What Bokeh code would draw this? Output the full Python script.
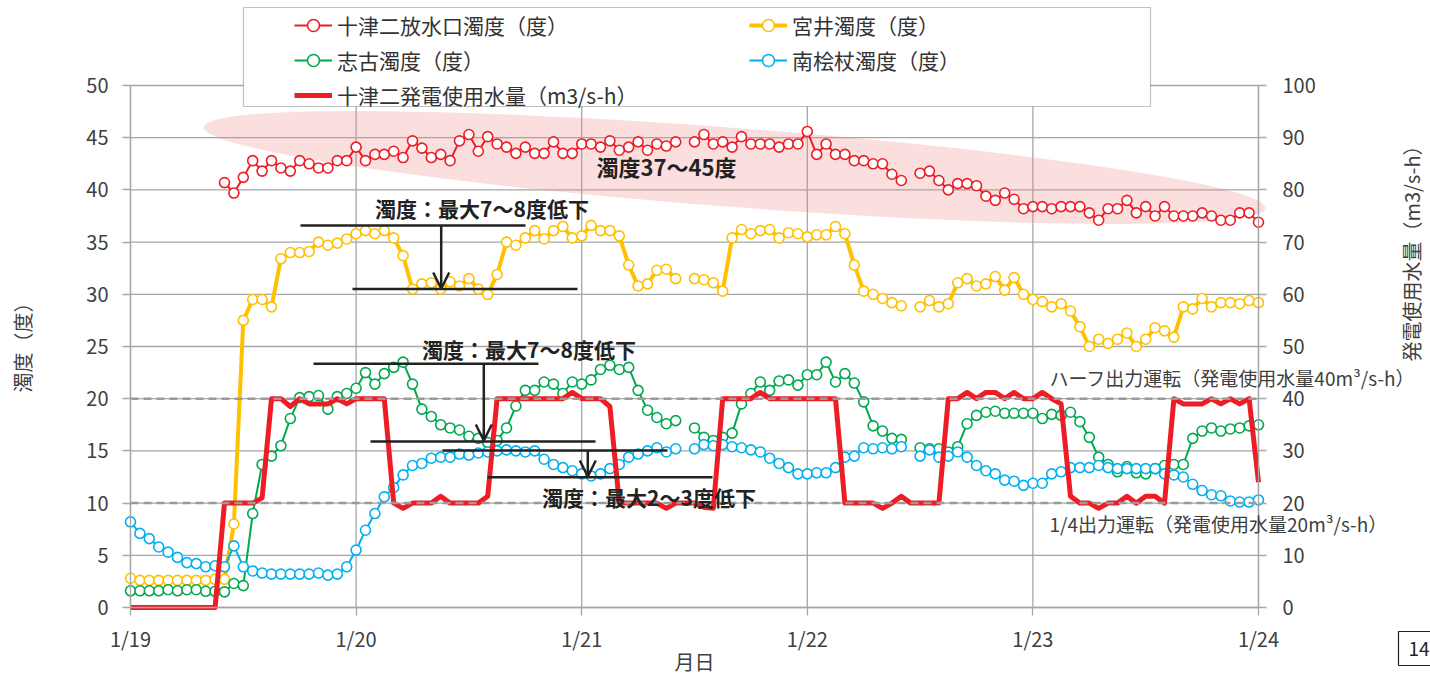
import math
from bokeh.plotting import figure
from bokeh.models import (Range1d, LinearAxis, FixedTicker, Legend, LegendItem,
                          Label, Arrow, OpenHead, BoxAnnotation)
from bokeh.embed import file_html
from bokeh.resources import INLINE

nan = float("nan")

# ---------------- data (hourly, 1/19 0:00 .. 1/24 0:00) ----------------
hours = list(range(121))
day_ticks = [0, 24, 48, 72, 96, 120]
day_labels = ["1/19", "1/20", "1/21", "1/22", "1/23", "1/24"]
left_ticks = list(range(0, 51, 5))
right_ticks = list(range(0, 101, 10))

totsu_outlet = [nan] * 10 + [
    40.7, 39.7, 41.2, 42.8, 41.8, 42.8, 42.1, 41.8, 42.8, 42.5, 42.1, 42.1, 42.8, 42.8,
    44.1, 42.8, 43.4, 43.4, 43.7, 43.1, 44.7, 44.0, 43.1, 43.4, 42.8, 44.7, 45.3, 43.7,
    45.1, 44.4, 44.1, 43.5, 44.1, 43.5, 43.5, 44.6, 43.5, 43.5,
    44.4, 44.4, 44.1, 44.7, 43.8, 44.1, 44.6, 43.8, 44.4, 44.2, 44.6, nan, 44.6, 45.3,
    44.4, 44.6, 44.1, 45.1, 44.4, 44.4, 44.4, 44.1, 44.4, 44.4,
    45.6, 43.4, 44.4, 43.4, 43.4, 42.8, 42.8, 42.5, 42.5, 41.5, 40.9, nan, 41.6, 41.8,
    40.9, 40.0, 40.6, 40.6, 40.4, 39.4, 39.0, 39.7, 39.1, 38.2,
    38.4, 38.4, 38.2, 38.4, 38.4, 38.4, 37.8, 37.1, 38.2, 38.2, 39.0, 37.8, 38.4, 37.5,
    38.4, 37.5, 37.5, 37.5, 37.8, 37.5, 37.1, 37.1, 37.8, 37.8, 36.9]

miyai = [
    2.8, 2.6, 2.6, 2.6, 2.6, 2.6, 2.6, 2.6, 2.6, 2.7, 2.7, 8.0, 27.5, 29.5, 29.5, 28.8,
    33.4, 34.0, 34.0, 34.1, 35.0, 34.7, 34.9, 35.3,
    35.8, 36.1, 35.8, 36.1, 35.4, 33.7, 30.5, 31.0, 31.1, 30.5, 31.2, 30.8, 31.5, 30.5,
    30.0, 31.9, 35.0, 34.7, 35.4, 36.1, 35.3, 36.1, 36.5, 35.4,
    35.6, 36.6, 36.1, 36.1, 35.6, 32.8, 30.8, 31.0, 32.3, 32.4, 31.5, nan, 31.5, 31.4,
    31.1, 30.3, 35.4, 36.2, 35.8, 36.1, 36.2, 35.4, 35.9, 35.8,
    35.5, 35.7, 35.7, 36.5, 35.8, 32.8, 30.3, 30.0, 29.6, 29.2, 28.9, nan, 28.8, 29.4,
    28.8, 29.1, 31.1, 31.5, 30.8, 31.0, 31.7, 30.4, 31.6, 30.0,
    29.5, 29.3, 28.8, 29.1, 28.4, 26.9, 25.0, 25.7, 25.3, 25.7, 26.3, 25.0, 25.7, 26.8,
    26.5, 25.9, 28.8, 28.6, 29.6, 28.8, 29.2, 29.2, 29.1, 29.4, 29.2]

shiko = [
    1.6, 1.6, 1.6, 1.6, 1.7, 1.6, 1.7, 1.7, 1.55, 1.55, 1.5, 2.3, 2.1, 9.0, 13.7, 14.5,
    15.5, 18.1, 20.1, 20.2, 20.3, 19.0, 20.2, 20.5,
    21.0, 22.5, 21.4, 22.4, 23.0, 23.5, 21.4, 19.0, 18.3, 17.5, 17.2, 17.0, 16.4, 16.2,
    15.8, 16.0, 17.2, 19.3, 20.8, 20.8, 21.6, 21.4, 20.5, 21.6,
    21.4, 21.8, 22.8, 23.2, 22.8, 23.0, 20.8, 18.9, 18.2, 17.6, 17.9, nan, 17.2, 16.3,
    16.0, 16.3, 16.7, 19.5, 20.5, 21.6, 20.8, 21.7, 21.8, 21.3,
    22.3, 22.3, 23.5, 21.6, 22.4, 21.5, 19.7, 17.4, 16.9, 16.2, 16.1, nan, 15.3, 15.2,
    15.2, 14.9, 15.4, 17.6, 18.4, 18.7, 18.8, 18.6, 18.6, 18.6,
    18.6, 18.1, 18.5, 18.4, 18.7, 17.8, 16.3, 14.4, 13.7, 13.0, 13.5, 12.9, 12.8, 13.3,
    13.6, 13.7, 13.7, 16.2, 16.9, 17.2, 16.9, 17.1, 17.2, 17.4, 17.5]

minamikaizue = [
    8.2, 7.1, 6.6, 5.8, 5.3, 4.8, 4.3, 4.2, 3.9, 4.0, 3.9, 5.9, 3.9, 3.5, 3.3, 3.2,
    3.2, 3.2, 3.2, 3.2, 3.3, 3.1, 3.2, 3.9,
    5.5, 7.4, 9.0, 10.6, 11.5, 12.7, 13.6, 13.8, 14.3, 14.4, 14.4, 14.7, 14.6, 14.8,
    14.9, 15.0, 15.1, 15.0, 14.9, 15.0, 14.2, 13.7, 13.4, 13.1,
    12.8, 12.6, 12.8, 13.3, 13.7, 14.4, 14.7, 15.0, 15.3, 14.9, 15.2, nan, 15.2, 15.6,
    15.5, 15.6, 15.4, 15.3, 15.1, 14.9, 14.3, 13.8, 13.4, 12.8,
    12.8, 12.9, 12.9, 13.4, 14.4, 14.5, 15.3, 15.2, 15.3, 15.2, 15.4, nan, 14.5, 15.1,
    14.4, 14.5, 14.9, 14.4, 13.6, 13.1, 12.8, 12.2, 12.1, 11.7,
    11.9, 11.9, 12.8, 13.0, 13.4, 13.4, 13.4, 13.6, 13.4, 13.3, 13.3, 13.3, 13.3, 13.3,
    12.8, 12.7, 12.5, 11.8, 11.2, 10.8, 10.7, 10.2, 10.1, 10.1, 10.3]

flow = [
    0, 0, 0, 0, 0, 0, 0, 0, 0, 0, 20, 20, 20, 20, 21, 40, 40, 38.5, 40, 39, 39, 39, 40, 39,
    40, 40, 40, 40, 20, 19, 20, 20, 20, 21.3, 20, 20, 20, 20, 21.3, 40, 40, 40, 40, 40, 40,
    40, 40, 41.2,
    40, 40, 40, 38.5, 20, 20, 20, 20, 20, 19, 20, 20, 20, 19.2, 19, 40, 40, 40, 40, 41.2,
    40, 40, 40, 40,
    40, 40, 40, 40, 20, 20, 20, 20, 19, 20, 21.3, 20, 20, 20, 20, 40, 40, 41.2, 40, 41.2,
    41.2, 40, 41.2, 40,
    40, 41.2, 40, 39, 21.3, 20, 20, 19, 20, 20, 21.3, 20, 21.3, 21.3, 20, 40, 39, 39, 39,
    40, 39, 40, 39, 40, 24]

# ---------------- layout / styling ----------------
W, H = 1430, 678
PX_L, PX_R, PX_T, PX_B = 130, 1258, 85, 607          # plot-area corners on the page
hx = 120 / (PX_R - PX_L)                              # hours per pixel
vy = 50 / (PX_B - PX_T)                               # turbidity units per pixel
X0, X1 = -PX_L * hx, 120 + (W - PX_R) * hx
Y0, Y1 = -(H - PX_B) * vy, 50 + PX_T * vy

def px(x):  # page x -> hour
    return (x - PX_L) * hx

def py(y):  # page y -> left-axis value
    return (PX_B - y) * vy

RED = "#ee1c25"
YEL = "#ffc000"
GRN = "#00a84f"
BLU = "#00b0f0"
GRID = "#a6a6a6"
TXT = "#404040"
ANN = "#222222"
FONT = "Noto Sans CJK JP"

p = figure(width=W, height=H, output_backend="svg", toolbar_location=None, title=None,
           x_range=Range1d(X0, X1), y_range=Range1d(Y0, Y1),
           min_border=0, min_border_left=0, min_border_right=0,
           min_border_top=0, min_border_bottom=0)
p.outline_line_color = None
p.background_fill_color = "white"
p.border_fill_color = "white"
p.extra_y_ranges = {"flow": Range1d(2 * Y0, 2 * Y1)}
p.xgrid.visible = False
p.ygrid.visible = False

# axes (fixed to the plot-area edges)
p.xaxis.ticker = FixedTicker(ticks=day_ticks)
p.xaxis.major_label_overrides = {t: l for t, l in zip(day_ticks, day_labels)}
p.xaxis.fixed_location = 0
p.xaxis.bounds = (0, 120)
p.yaxis.ticker = FixedTicker(ticks=left_ticks)
p.yaxis.fixed_location = 0
p.yaxis.bounds = (0, 50)
ax2 = LinearAxis(y_range_name="flow", ticker=FixedTicker(ticks=right_ticks),
                 fixed_location=120, bounds=(0, 100))
p.add_layout(ax2, "right")
for ax in [p.xaxis[0], p.yaxis[0], ax2]:
    ax.axis_line_color = GRID
    ax.axis_line_width = 1.3
    ax.major_tick_line_color = GRID
    ax.major_tick_line_width = 1.3
    ax.major_tick_out = 8
    ax.major_tick_in = 0
    ax.minor_tick_line_color = None
    ax.major_label_text_font = FONT
    ax.major_label_text_font_size = "20px"
    ax.major_label_text_color = TXT
p.xaxis.major_label_standoff = 8
p.yaxis.major_label_standoff = 14
ax2.major_label_standoff = 16

# grid lines, drawn over the plot area only
p.segment(x0=[0] * len(left_ticks), x1=[120] * len(left_ticks), y0=left_ticks,
          y1=left_ticks, line_color=GRID, line_width=1.3)
p.segment(x0=day_ticks, x1=day_ticks, y0=[0] * len(day_ticks), y1=[50] * len(day_ticks),
          line_color=GRID, line_width=1.3)

# pink ellipse (37~45 band)
p.ellipse(x=[px(734)], y=[py(167)], width=[1065], height=[79], width_units="screen",
          height_units="screen", angle=-0.076, fill_color="#f08080", fill_alpha=0.25,
          line_color=None)

# series
def marker_series(y, color, lw):
    ln = p.line(hours, y, line_color=color, line_width=lw, line_join="round")
    sc = p.scatter(hours, y, marker="circle", size=10, fill_color="white",
                   line_color=color, line_width=1.6)
    return ln, sc

r1 = marker_series(totsu_outlet, RED, 2)
r2 = marker_series(miyai, YEL, 4)
r3 = marker_series(shiko, GRN, 2)
r4 = marker_series(minamikaizue, BLU, 2)
rf = p.line(hours, flow, y_range_name="flow", line_color=RED, line_width=5, line_join="round")

# dashed operation lines (half output / quarter output)
op_levels = [20, 10]
p.segment(x0=[0, 0], x1=[120, 120], y0=op_levels, y1=op_levels, line_color="#9a9a9a",
          line_width=2.5, line_dash="8 5")

# annotation lines + arrows
seg_x0 = [px(300), px(352), px(313), px(370), px(442), px(487)]
seg_x1 = [px(525), px(577), px(538), px(595), px(667), px(712)]
seg_y = [py(225), py(288.5), py(363.3), py(441), py(450), py(476.7)]
p.segment(x0=seg_x0, y0=seg_y, x1=seg_x1, y1=seg_y, line_color=ANN, line_width=2.5)
for ax_, y0, y1 in [(440.7, 225, 288), (483.3, 363.3, 440), (587.3, 450, 476)]:
    p.add_layout(Arrow(end=OpenHead(size=16, line_width=2.5, line_color=ANN),
                       x_start=px(ax_), y_start=py(y0), x_end=px(ax_), y_end=py(y1),
                       line_color=ANN, line_width=2.5))

def lab(x, y, text, size, bold=False, align="center", color=ANN, angle=0.0):
    p.add_layout(Label(x=px(x), y=py(y), text=text, text_font=FONT, text_font_size=size,
                       text_font_style="bold" if bold else "normal", text_color=color,
                       text_align=align, text_baseline="middle", angle=angle))

lab(481.5, 207, "濁度：最大7～8度低下", "21px", bold=True)
lab(528.5, 348, "濁度：最大7～8度低下", "21px", bold=True)
lab(648.5, 496.7, "濁度：最大2～3度低下", "21px", bold=True)
lab(666, 165, "濁度37～45度", "22px", bold=True)
lab(1049, 377, "ハーフ出力運転（発電使用水量40m³/s-h）", "19px", align="left", color=TXT)
lab(1049, 523, "1/4出力運転（発電使用水量20m³/s-h）", "19px", align="left", color=TXT)

# axis titles
lab(22, 342, "濁度（度）", "20px", color=TXT, angle=math.pi / 2)
lab(1411, 248, "発電使用水量（m3/s-h）", "20px", color=TXT, angle=math.pi / 2)
lab(694, 661, "月日", "20px", color=TXT)

# page number box (its frame runs off the page edge, as in the source)
p.add_layout(Label(x=px(1398), y=py(648), text="14", text_font=FONT, text_font_size="19px",
                   text_color="#222222", text_align="left", text_baseline="middle",
                   border_line_color="#222222", border_line_width=1.2,
                   background_fill_color="white", padding=10))

# legend frame
p.add_layout(BoxAnnotation(left=px(243), right=px(1150), top=py(7), bottom=py(106),
                           fill_color="white", fill_alpha=1.0,
                           line_color="#333333", line_width=1.2))

def mk_legend(items, loc):
    lg = Legend(items=items, location=loc, orientation="vertical",
                glyph_width=38, glyph_height=30, label_height=30, label_standoff=5,
                spacing=5, padding=0, margin=0, border_line_alpha=0,
                background_fill_alpha=0, label_text_font=FONT,
                label_text_font_size="21px", label_text_color="#333333")
    p.add_layout(lg)

mk_legend([LegendItem(label="十津二放水口濁度（度）", renderers=list(r1)),
           LegendItem(label="志古濁度（度）", renderers=list(r3)),
           LegendItem(label="十津二発電使用水量（m3/s-h）", renderers=[rf])], (294, H - 110))
mk_legend([LegendItem(label="宮井濁度（度）", renderers=list(r2)),
           LegendItem(label="南桧杖濁度（度）", renderers=list(r4))], (749, H - 75))

open("out.html", "w").write(file_html(p, INLINE))
